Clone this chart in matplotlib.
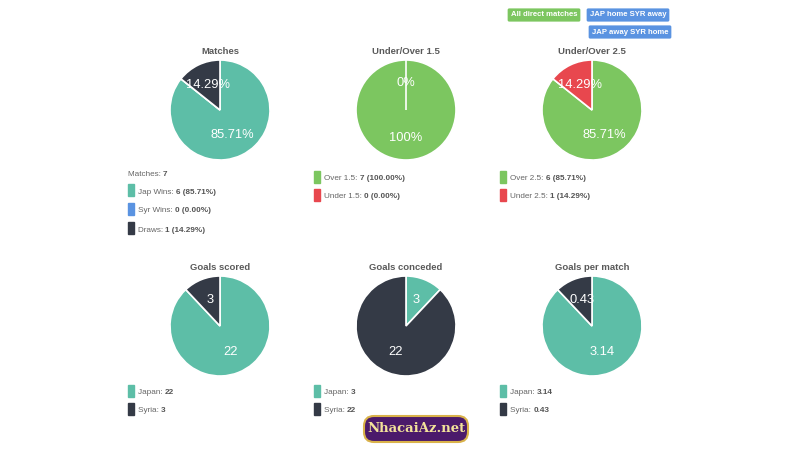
import matplotlib
matplotlib.use('Agg')
import matplotlib.pyplot as plt
from matplotlib.patches import Rectangle, FancyBboxPatch

plt.rcParams['font.family'] = ['Liberation Sans', 'DejaVu Sans']

# chart data
TEAL = '#5dbea7'
DARK = '#343a46'
BLUE = '#5a93e1'
GREEN = '#7cc660'
RED = '#e8474e'

matches_vals = [6, 0, 1]
matches_labels = ['Jap Wins', 'Syr Wins', 'Draws']
matches_colors = [TEAL, BLUE, DARK]
matches_total = 7

uo15_vals = [7, 0]
uo15_labels = ['Over 1.5', 'Under 1.5']
uo25_vals = [6, 1]
uo25_labels = ['Over 2.5', 'Under 2.5']
uo_colors = [GREEN, RED]

scored_vals = [22, 3]
conceded_vals = [3, 22]
per_match_vals = [3.14, 0.43]
team_labels = ['Japan', 'Syria']
team_colors = [TEAL, DARK]

buttons = [('All direct matches', GREEN), ('JAP home SYR away', BLUE), ('JAP away SYR home', BLUE)]

W, H = 800, 450
fig = plt.figure(figsize=(8, 4.5), dpi=100)
fig.patch.set_facecolor('white')

bg = fig.add_axes([0, 0, 1, 1])
bg.set_xlim(0, W)
bg.set_ylim(H, 0)
bg.axis('off')


def draw_pie(cx, cy, vals, colors, labels, title, r=50):
    ax = fig.add_axes([(cx - r) / W, 1 - (cy + r) / H, 2 * r / W, 2 * r / H])
    wedges, texts = ax.pie(vals, colors=colors, startangle=90, counterclock=False,
                           labels=labels, labeldistance=0.55,
                           wedgeprops=dict(edgecolor='white', linewidth=1.2),
                           textprops=dict(color='white', fontsize=9.3))
    for t in texts:
        t.set_ha('center')
        t.set_va('center')
    ax.set_xlim(-1, 1)
    ax.set_ylim(-1, 1)
    ax.set_aspect('equal')
    bg.text(cx, cy - r - 8, title, ha='center', va='center', fontsize=6.8,
            fontweight='bold', color='#5a5a5a')


def legend_item(x, y, color, label, value):
    bg.add_patch(Rectangle((x, y - 6), 6, 12, color=color))
    t = bg.text(x + 10, y + 2, label + ': ', ha='left', va='center', fontsize=5.9, color='#666666')
    bg.annotate(value, xy=(1, 0.5), xycoords=t, ha='left', va='center',
                fontsize=5.9, fontweight='bold', color='#555555')


# top row
m_pct = ['{:.2f}%'.format(v * 100 / matches_total) for v in matches_vals]
draw_pie(220, 110, matches_vals, matches_colors,
         [p if v else '' for p, v in zip(m_pct, matches_vals)], 'Matches')
draw_pie(406, 110, uo15_vals, uo_colors, ['100%', '0%'], 'Under/Over 1.5')
uo25_pct = ['{:.2f}%'.format(v * 100 / sum(uo25_vals)) for v in uo25_vals]
draw_pie(592, 110, uo25_vals, uo_colors, uo25_pct, 'Under/Over 2.5')

# bottom row
draw_pie(220, 326, scored_vals, team_colors, [str(v) for v in scored_vals], 'Goals scored')
draw_pie(406, 326, conceded_vals, team_colors, [str(v) for v in conceded_vals], 'Goals conceded')
draw_pie(592, 326, per_match_vals, team_colors, ['{:.2f}'.format(v) for v in per_match_vals], 'Goals per match')

# legends
t = bg.text(128, 175, 'Matches: ', ha='left', va='center', fontsize=5.9, color='#666666')
bg.annotate(str(matches_total), xy=(1, 0.5), xycoords=t, ha='left', va='center',
            fontsize=5.9, fontweight='bold', color='#555555')
for i, (lab, v, c) in enumerate(zip(matches_labels, matches_vals, matches_colors)):
    legend_item(128, 190 + i * 19, c, lab, '{} ({:.2f}%)'.format(v, v * 100 / matches_total))

for i, (lab, v, c) in enumerate(zip(uo15_labels, uo15_vals, uo_colors)):
    legend_item(314, 177 + i * 18, c, lab, '{} ({:.2f}%)'.format(v, v * 100 / sum(uo15_vals)))
for i, (lab, v, c) in enumerate(zip(uo25_labels, uo25_vals, uo_colors)):
    legend_item(500, 177 + i * 18, c, lab, '{} ({:.2f}%)'.format(v, v * 100 / sum(uo25_vals)))

for x, vals, fmt in [(128, scored_vals, '{}'), (314, conceded_vals, '{}'), (500, per_match_vals, '{:.2f}')]:
    for i, (lab, v, c) in enumerate(zip(team_labels, vals, team_colors)):
        legend_item(x, 391 + i * 18, c, lab, fmt.format(v))

# filter buttons
btn_pos = [(544, 15), (628, 15), (630, 32)]
for (label, color), (bx, by) in zip(buttons, btn_pos):
    bg.text(bx, by, label, ha='center', va='center', fontsize=5.6, fontweight='bold', color='white',
            bbox=dict(boxstyle='round,pad=0.4,rounding_size=0.2', fc=color, ec='none'))

# watermark logo
bg.add_patch(FancyBboxPatch((366, 418), 100, 22, boxstyle='round,pad=2,rounding_size=10',
                            fc='#4b1a6b', ec='#d9b24a', lw=1.5))
bg.text(416, 429, 'NhacaiAz.net', ha='center', va='center', fontsize=9.5, fontweight='bold',
        color='#f3e39a', family=['DejaVu Serif'])

fig.savefig('out.png', dpi=100, facecolor='white')
